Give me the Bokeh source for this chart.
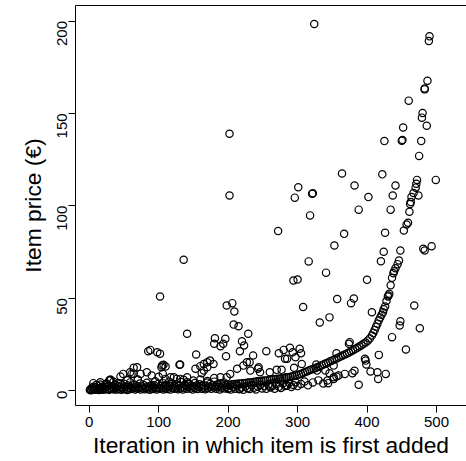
import math
from bokeh.plotting import figure
from bokeh.models import ColumnDataSource, Range1d, FixedTicker, LinearAxis
from bokeh.embed import file_html
from bokeh.resources import INLINE

# ---------------- data ----------------
x_ticks = [0, 100, 200, 300, 400, 500]
y_ticks = [0, 50, 100, 150, 200]
x_title = "Iteration in which item is first added"
y_title = "Item price (€)"

# dense low band, iterations 1-200
band_x = [1, 2, 3, 4, 5, 6, 7, 8, 9, 10, 11, 12, 13, 14, 15, 16, 17, 18, 19, 20,
          22, 23, 24, 25, 26, 28, 29, 30, 31, 32, 33, 35, 36, 37, 38, 40, 41, 42, 43, 45,
          46, 47, 48, 50, 51, 52, 54, 55, 56, 58, 59, 60, 62, 63, 65, 66, 67, 69, 70, 72,
          73, 74, 76, 77, 79, 80, 81, 83, 84, 86, 87, 88, 90, 91, 93, 94, 96, 97, 99, 100,
          101, 103, 104, 106, 107, 108, 110, 111, 113, 114, 116, 117, 119, 120, 122, 123, 125, 126, 128, 129,
          131, 132, 134, 135, 137, 138, 140, 141, 143, 144, 146, 147, 149, 150, 152, 153, 155, 156, 158, 159,
          161, 162, 164, 165, 167, 168, 170, 171, 173, 174, 176, 177, 179, 180, 182, 183, 185, 186, 188, 189,
          191, 192, 194, 195, 197, 198, 200]
band_y = [0.3, 0.8, 0.2, 1.5, 0.5, 2.1, 0.9, 0.4, 1.8, 3.0, 0.6, 1.2, 2.5, 0.3, 1.0, 3.2, 0.7, 1.6, 0.4, 2.2,
          1.1, 0.5, 1.9, 3.4, 0.8, 2.6, 0.4, 1.4, 5.8, 0.9, 2.0, 1.2, 0.6, 3.1, 1.7, 0.5, 2.4, 4.1, 1.0, 1.8,
          0.4, 2.9, 1.3, 0.7, 3.6, 2.1, 1.0, 0.3, 2.7, 1.5, 4.4, 0.8, 2.0, 1.2, 3.3, 0.6, 1.7, 2.5, 0.9, 1.4,
          3.8, 0.5, 2.2, 1.1, 2.9, 0.7, 1.6, 4.2, 1.0, 2.3, 0.4, 1.5, 3.0, 0.8, 1.9, 2.7, 1.2, 0.5, 3.5, 1.6,
          0.9, 2.4, 1.3, 4.0, 0.6, 2.0, 1.1, 3.1, 0.8, 1.8, 2.6, 0.5, 3.9, 1.4, 2.2, 0.9, 1.7, 3.3, 0.7, 2.5,
          1.2, 4.6, 2.0, 0.6, 1.5, 3.0, 2.3, 0.9, 1.8, 3.7, 1.1, 2.6, 0.5, 2.0, 4.1, 1.4, 2.8, 0.8, 1.9, 3.4,
          2.4, 1.0, 3.0, 1.6, 0.7, 2.6, 4.3, 1.3, 2.1, 3.6, 0.9, 2.9, 1.7, 4.8, 2.3, 1.0, 3.2, 2.0, 0.6, 3.9,
          1.5, 2.7, 4.4, 1.1, 3.1, 2.1, 0.8]

# low band, iterations 200-340
band2_x = [201, 204, 207, 210, 213, 216, 217, 219, 222, 225, 228, 231, 234, 237, 240, 243, 246, 249, 252, 255,
           258, 260, 261, 264, 267, 270, 273, 276, 279, 282, 284, 285, 288, 291, 294, 297, 300, 305, 310, 315,
           322, 330, 337, 344]
band2_y = [1.2, 0.5, 2.0, 1.0, 2.6, 0.7, 0.9, 1.6, 0.4, 2.2, 1.3, 0.8, 2.8, 1.5, 0.6, 2.0, 3.0, 1.1, 2.4, 0.9,
           3.3, 2.2, 1.7, 2.6, 1.0, 3.5, 2.0, 1.4, 3.8, 2.5, 2.7, 2.7, 4.1, 1.9, 3.0, 4.5, 2.4, 3.6, 4.9, 2.8,
           4.4, 5.5, 3.8, 4.0]

# points just above the low band
mid_x = [6, 16, 25, 29, 30, 35, 45, 45, 49, 55, 59, 61, 64, 64, 69, 70, 74, 83, 90, 95,
         100, 106, 110, 115, 117, 122, 126, 131, 136, 141, 141, 150, 160, 170, 180, 189, 198, 203]
mid_y = [4.0, 4.5, 3.8, 5.4, 5.8, 4.7, 7.6, 3.6, 9.0, 5.5, 9.9, 9.0, 12.3, 9.0, 12.6, 6.0, 9.0, 9.9, 8.1, 5.0,
         7.4, 9.0, 6.3, 4.8, 7.2, 7.2, 6.3, 6.3, 5.8, 7.2, 4.5, 5.4, 6.0, 5.2, 6.8, 7.2, 7.2, 9.0]

# main rising curve
curve_x = [200, 203, 206, 209, 212, 215, 218, 221, 224, 227, 230, 233, 236, 239, 242, 245, 248, 251, 254, 257,
           260, 263, 266, 269, 272, 275, 278, 281, 284, 287, 290, 293, 296, 299, 302, 305, 308, 311, 314, 317,
           320, 323, 326, 329, 332, 335, 338, 341, 344, 347, 350, 353, 356, 359, 362, 365, 368, 371, 374, 377,
           380, 383, 386, 389, 392, 395, 398, 401, 404, 407, 409, 411, 413, 415, 417, 419, 421, 423, 424, 426,
           428, 430, 431, 432, 434, 436, 438, 439, 441, 444, 446, 457, 459, 461, 462, 463, 464, 467, 470, 471,
           472, 475, 478, 479, 480, 483, 483, 486, 487, 489, 490]
curve_y = [3.2, 3.0, 3.4, 3.6, 3.5, 3.8, 3.7, 4.0, 3.9, 4.2, 4.4, 4.3, 4.6, 4.8, 5.0, 4.9, 5.2, 5.4, 5.3, 5.6,
           5.8, 5.9, 6.1, 6.3, 6.4, 6.5, 6.7, 6.8, 7.0, 7.2, 7.4, 7.7, 8.0, 8.3, 8.7, 9.0, 9.5, 10.0, 10.5, 11.0,
           11.4, 11.8, 12.2, 12.7, 13.2, 13.7, 14.2, 14.8, 15.2, 15.8, 16.3, 16.8, 17.3, 17.9, 18.4, 19.0, 19.5, 20.1, 20.6, 21.2,
           21.8, 22.5, 23.1, 23.8, 24.5, 25.3, 26.0, 27.0, 28.2, 29.8, 31.2, 32.8, 34.5, 36.2, 38.0, 39.5, 41.0, 42.4, 44.0, 45.5,
           48.5, 50.9, 51.4, 52.4, 57.0, 61.0, 63.5, 64.6, 66.2, 68.4, 70.4, 89.9, 90.8, 96.8, 101.0, 102.0, 104.7, 106.9, 109.8, 111.9,
           114.0, 127.0, 135.0, 147.7, 150.2, 163.0, 163.5, 143.3, 167.7, 189.2, 191.7]

# scattered points above the curve
out_x = [85, 88, 98, 102, 102, 105, 107, 110, 104, 130, 131, 136, 141, 154, 153, 160, 162, 165, 165, 170,
         170, 174, 179, 181, 180, 189, 196, 193, 197, 198, 206, 209, 202, 202, 208, 215, 229, 220, 223, 217,
         236, 255, 227, 222, 213, 232, 244, 246, 231, 243, 260, 270, 277, 284, 272, 273, 280, 289, 293, 303,
         305, 306, 285, 297, 282, 295, 327, 328, 340, 346, 352, 294, 300, 296, 301, 321, 322, 318, 324, 316,
         308, 332, 346, 341, 353, 357, 364, 367, 382, 388, 402, 377, 381, 400, 420, 424, 426, 422, 434, 437,
         441, 448, 453, 460, 450, 451, 452, 425, 474, 499, 481, 483, 493, 476, 468, 448, 447, 407, 456, 436,
         417, 375, 374, 356, 398, 399, 397, 405, 415, 416, 427, 382, 379, 388, 368, 359, 352, 343, 356, 352]
out_y = [21.3, 22.0, 20.7, 19.9, 50.9, 13.5, 13.9, 13.0, 12.6, 13.9, 14.1, 70.8, 30.7, 19.5, 11.8, 13.2, 9.4, 10.8, 14.4, 12.6,
         15.3, 16.2, 14.4, 28.3, 25.3, 24.0, 28.0, 25.3, 18.6, 46.0, 47.3, 42.8, 139.0, 105.6, 35.7, 34.8, 30.7, 26.7, 24.4, 21.3,
         19.0, 21.3, 15.3, 13.5, 11.8, 10.8, 12.6, 9.9, 15.3, 11.8, 9.9, 11.2, 11.2, 7.2, 86.3, 20.2, 22.0, 23.1, 20.7, 22.6,
         20.2, 14.4, 17.2, 18.0, 17.2, 12.3, 14.1, 10.8, 10.8, 9.4, 13.5, 59.6, 60.1, 104.4, 110.0, 106.5, 106.8, 94.8, 198.4, 69.9,
         45.2, 36.8, 39.6, 63.8, 78.5, 49.5, 117.5, 84.8, 111.0, 97.9, 104.7, 47.3, 49.8, 59.9, 70.0, 75.1, 85.4, 117.0, 97.9, 105.6,
         111.0, 75.8, 86.6, 156.9, 135.2, 135.6, 142.4, 135.0, 105.6, 114.0, 76.7, 75.8, 78.1, 33.7, 46.0, 37.5, 35.2, 42.4, 22.2, 28.9,
         19.3, 26.2, 25.3, 20.2, 16.2, 14.1, 17.2, 10.3, 9.9, 6.3, 9.0, 10.7, 9.4, 3.1, 9.0, 8.1, 7.2, 5.4, 7.6, 6.3]

xs = band_x + band2_x + mid_x + curve_x + out_x
ys = band_y + band2_y + mid_y + curve_y + out_y

# ---------------- figure ----------------
FONT = "Liberation Sans"

p = figure(width=466, height=461, output_backend="svg", toolbar_location=None,
           x_range=Range1d(-19.7, 543.2), y_range=Range1d(-8.1, 208.4),
           min_border_left=75, min_border_right=0, min_border_top=5, min_border_bottom=56)
p.outline_line_color = None
p.background_fill_color = "white"
p.border_fill_color = "white"
p.xgrid.visible = False
p.ygrid.visible = False

src = ColumnDataSource(dict(x=xs, y=ys))
p.scatter(x="x", y="y", source=src, marker="circle", size=7.3, fill_color=None,
          line_color="black", line_width=1.2)

for ax in (p.xaxis[0], p.yaxis[0]):
    ax.axis_line_color = "black"
    ax.axis_line_width = 1
    ax.major_tick_line_color = "black"
    ax.major_tick_in = 0
    ax.major_tick_out = 7
    ax.minor_tick_line_color = None
    ax.major_label_text_font = FONT
    ax.major_label_text_font_size = "15px"
    ax.major_label_text_color = "black"
    ax.axis_label_text_font = FONT
    ax.axis_label_text_font_size = "22.8px"
    ax.axis_label_text_font_style = "normal"
    ax.axis_label_text_color = "black"

p.xaxis.ticker = FixedTicker(ticks=x_ticks)
p.yaxis.ticker = FixedTicker(ticks=y_ticks)
p.xaxis.axis_label = x_title
p.yaxis.axis_label = y_title
p.yaxis.major_label_orientation = math.pi / 2
p.xaxis.major_label_standoff = 4
p.yaxis.major_label_standoff = 6
p.xaxis.axis_label_standoff = 2
p.yaxis.axis_label_standoff = 4

top = LinearAxis(ticker=FixedTicker(ticks=[]), axis_line_color="black",
                 major_tick_line_color=None, minor_tick_line_color=None,
                 major_label_text_font_size="0px")
p.add_layout(top, "above")

open("out.html", "w").write(file_html(p, INLINE))
